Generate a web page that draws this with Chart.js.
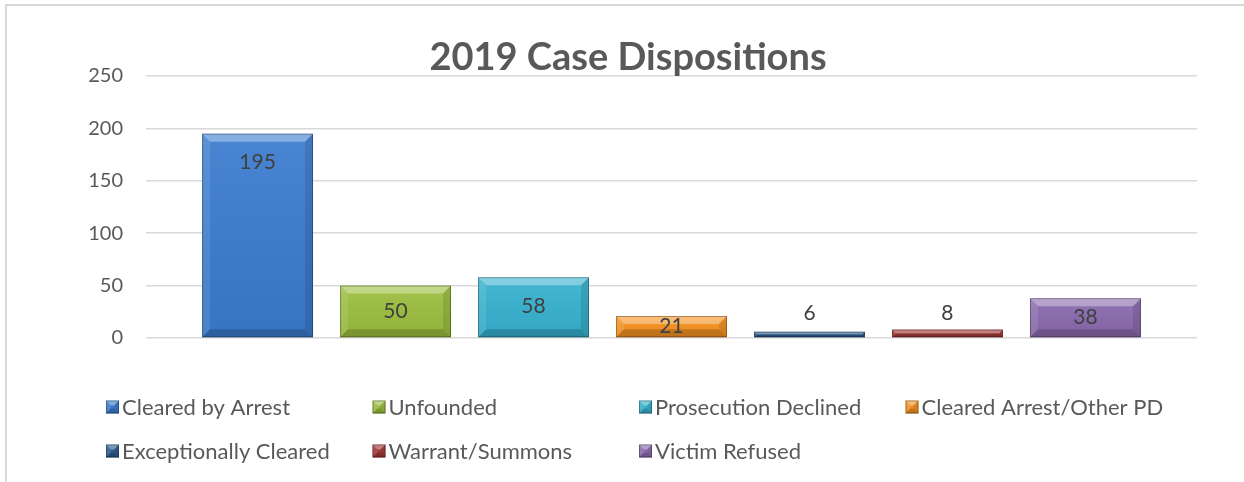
<!DOCTYPE html>
<html>
<head>
<meta charset="utf-8">
<title>2019 Case Dispositions</title>
<script src="https://cdn.jsdelivr.net/npm/chart.js@4.4.1/dist/chart.umd.min.js"></script>
<style>
  html, body { margin: 0; padding: 0; background: #fff; }
  #wrap { position: relative; width: 1244px; height: 482px; }
</style>
</head>
<body>
<div id="wrap"><canvas id="dispositions" width="1244" height="482"></canvas></div>
<script>
const chartTitle = '2019 Case Dispositions';
const dispositions = [
  'Cleared by Arrest',
  'Unfounded',
  'Prosecution Declined',
  'Cleared Arrest/Other PD',
  'Exceptionally Cleared',
  'Warrant/Summons',
  'Victim Refused',
];
const caseCounts = [195, 50, 58, 21, 6, 8, 38];
const yTicks = [0, 50, 100, 150, 200, 250];

const palette = ['#3a7bce', '#9cbf3e', '#36b2d0', '#f7921f', '#2b5a8f', '#a53535', '#8a6aae'];
const FONT = 'Lato, "Open Sans", sans-serif';
const TEXT = '#595959';

// excel-ish bevel drawn on top of a plain rect
function bevel(ctx, l, t, r, b, size) {
  const w = r - l;
  const h = b - t;
  if (w <= 0 || h <= 0) return;
  const s = Math.min(size, w / 2, h / 2);
  const grad = ctx.createLinearGradient(0, t, 0, b);
  grad.addColorStop(0, 'rgba(255,255,255,0.08)');
  grad.addColorStop(1, 'rgba(0,0,0,0.06)');
  ctx.fillStyle = grad;
  ctx.fillRect(l, t, w, h);

  const quad = (pts, style) => {
    ctx.fillStyle = style;
    ctx.beginPath();
    ctx.moveTo(pts[0], pts[1]);
    for (let k = 2; k < pts.length; k += 2) ctx.lineTo(pts[k], pts[k + 1]);
    ctx.closePath();
    ctx.fill();
  };
  quad([l, t, r, t, r - s, t + s, l + s, t + s], 'rgba(255,255,255,0.34)');
  quad([l, t, l + s, t + s, l + s, b - s, l, b], 'rgba(255,255,255,0.10)');
  quad([r, t, r, b, r - s, b - s, r - s, t + s], 'rgba(0,0,0,0.10)');
  quad([l, b, r, b, r - s, b - s, l + s, b - s], 'rgba(0,0,0,0.18)');
  ctx.strokeStyle = 'rgba(0,0,0,0.30)';
  ctx.lineWidth = 1;
  ctx.strokeRect(l + 0.5, t + 0.5, w - 1, h - 1);
}

const framePlugin = {
  id: 'frame',
  beforeDraw(chart) {
    const { ctx, width, height } = chart;
    ctx.save();
    ctx.strokeStyle = '#d9d9d9';
    ctx.lineWidth = 2;
    ctx.beginPath();
    ctx.moveTo(6, height);
    ctx.lineTo(6, 5);
    ctx.lineTo(width, 5);
    ctx.stroke();
    ctx.restore();
  },
};

const titlePlugin = {
  id: 'excelTitle',
  afterDraw(chart) {
    const { ctx } = chart;
    ctx.save();
    ctx.font = 'bold 38px ' + FONT;
    ctx.fillStyle = TEXT;
    ctx.textAlign = 'center';
    ctx.textBaseline = 'middle';
    ctx.fillText(chartTitle, 628, 58);
    ctx.restore();
  },
};

const bevelPlugin = {
  id: 'bevel',
  afterDatasetsDraw(chart) {
    const { ctx } = chart;
    ctx.save();
    chart.data.datasets.forEach((ds, i) => {
      chart.getDatasetMeta(i).data.forEach((bar) => {
        const half = bar.width / 2;
        bevel(ctx, bar.x - half, bar.y, bar.x + half, bar.base, 8);
      });
    });
    ctx.restore();
  },
};

const valueLabels = {
  id: 'valueLabels',
  afterDatasetsDraw(chart) {
    const { ctx } = chart;
    const zero = chart.scales.y.getPixelForValue(0);
    ctx.save();
    ctx.font = '21px ' + FONT;
    ctx.fillStyle = '#404040';
    ctx.textAlign = 'center';
    ctx.textBaseline = 'middle';
    chart.data.datasets.forEach((ds, i) => {
      const bar = chart.getDatasetMeta(i).data[0];
      const h = bar.base - bar.y;
      let y;
      if (h < 16) {
        y = zero - 25;
      } else {
        y = Math.min(bar.y + 29, (bar.y + bar.base) / 2);
      }
      ctx.fillText(String(ds.data[0]), bar.x, y);
    });
    ctx.restore();
  },
};

const gridLegend = {
  id: 'gridLegend',
  afterDraw(chart) {
    const { ctx } = chart;
    const left = 106;
    const colW = 266.5;
    const rows = [407, 451];
    ctx.save();
    ctx.font = '22px ' + FONT;
    ctx.textBaseline = 'middle';
    chart.data.datasets.forEach((ds, i) => {
      const x = left + (i % 4) * colW;
      const y = rows[Math.floor(i / 4)];
      ctx.fillStyle = ds.backgroundColor;
      ctx.fillRect(x, y - 6.5, 13, 13);
      bevel(ctx, x, y - 6.5, x + 13, y + 6.5, 5);
      ctx.fillStyle = TEXT;
      ctx.fillText(ds.label, x + 16, y + 1);
    });
    ctx.restore();
  },
};

const datasets = dispositions.map((name, i) => ({
  label: name,
  data: [caseCounts[i]],
  backgroundColor: palette[i],
  borderWidth: 0,
  categoryPercentage: 0.919,
  barPercentage: 0.804,
}));

new Chart(document.getElementById('dispositions'), {
  type: 'bar',
  data: {
    labels: [''],
    datasets,
  },
  options: {
    responsive: false,
    animation: false,
    devicePixelRatio: 1,
    layout: {
      padding: { left: 0, right: 47, top: 76, bottom: 144 },
    },
    plugins: {
      legend: { display: false },
      title: { display: false },
      tooltip: { enabled: false },
    },
    scales: {
      x: {
        display: false,
      },
      y: {
        min: yTicks[0],
        max: yTicks[yTicks.length - 1],
        afterFit(scale) {
          scale.width = 146;
        },
        afterBuildTicks(scale) {
          scale.ticks = yTicks.map((v) => ({ value: v }));
        },
        border: { display: false },
        grid: {
          color: '#d9d9d9',
          lineWidth: 1.5,
          drawTicks: false,
        },
        ticks: {
          padding: 23,
          color: TEXT,
          font: { family: FONT, size: 20 },
        },
      },
    },
  },
  plugins: [framePlugin, bevelPlugin, valueLabels, titlePlugin, gridLegend],
});
</script>
</body>
</html>
